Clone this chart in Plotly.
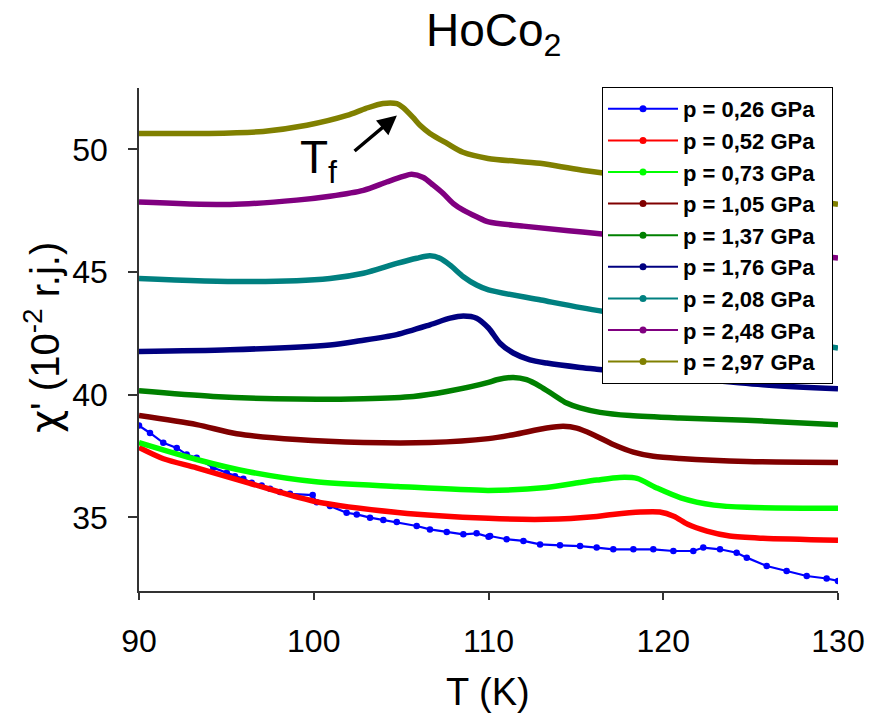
import plotly.graph_objects as go

# AC susceptibility of HoCo2 vs temperature at several pressures
labels = ["p = 0,26 GPa", "p = 0,52 GPa", "p = 0,73 GPa", "p = 1,05 GPa", "p = 1,37 GPa",
          "p = 1,76 GPa", "p = 2,08 GPa", "p = 2,48 GPa", "p = 2,97 GPa"]
colors = ["#0000FF", "#FF0000", "#00FF00", "#800000", "#008000",
          "#000080", "#008080", "#800080", "#808000"]

t_026 = [90.0, 90.63, 91.39, 92.16, 92.73, 93.3, 94.25, 95.02, 95.49, 95.97, 96.45, 97.02,
         97.5, 98.07, 98.64, 99.94, 100.17, 100.93, 101.88, 102.46, 103.22, 103.98, 104.75,
         105.89, 106.65, 107.61, 108.56, 109.32, 110.0, 110.09, 111.04, 112.0, 112.95, 114.09,
         115.24, 116.19, 117.14, 118.29, 119.43, 120.58, 121.72, 122.29, 123.25, 124.2, 124.78,
         125.92, 127.06, 128.21, 129.35, 130.0]
chi_026 = [38.74, 38.44, 38.04, 37.83, 37.56, 37.43, 37.02, 36.82, 36.68, 36.57, 36.41, 36.30,
           36.17, 36.03, 35.96, 35.91, 35.62, 35.46, 35.19, 35.12, 34.99, 34.89, 34.81,
           34.65, 34.51, 34.40, 34.31, 34.35, 34.21, 34.24, 34.11, 34.04, 33.90, 33.86,
           33.83, 33.77, 33.70, 33.70, 33.70, 33.63, 33.63, 33.77, 33.70, 33.56, 33.36,
           33.02, 32.82, 32.61, 32.51, 32.41]

t_052 = [90.0, 91.4, 93.3, 96.2, 100.0, 104.8, 110.0, 113.3, 116.2, 117.1, 118.7, 119.8,
         120.6, 121.4, 122.5, 123.8, 125.7, 130.0]
chi_052 = [37.85, 37.39, 37.02, 36.42, 35.66, 35.20, 34.96, 34.92, 35.04, 35.12, 35.22, 35.22,
           35.05, 34.72, 34.44, 34.24, 34.15, 34.07]

t_073 = [90.0, 93.3, 96.2, 100.0, 104.8, 110.0, 113.3, 115.2, 116.2, 117.5, 118.5, 119.6,
         121.0, 122.9, 124.8, 130.0]
chi_073 = [38.05, 37.36, 36.87, 36.46, 36.26, 36.10, 36.22, 36.42, 36.52, 36.63, 36.59, 36.21,
           35.80, 35.50, 35.41, 35.37]

t_105 = [90.0, 93.3, 95.59, 99.02, 102.84, 106.65, 110.0, 111.42, 113.33, 114.28, 115.05,
         116.0, 117.14, 118.29, 119.43, 120.96, 124.78, 130.0]
chi_105 = [39.15, 38.78, 38.41, 38.17, 38.05, 38.05, 38.21, 38.37, 38.64, 38.71, 38.64,
           38.37, 37.97, 37.66, 37.49, 37.40, 37.28, 37.24]

t_137 = [90.0, 94.25, 99.02, 102.84, 105.7, 107.61, 110.0, 110.47, 111.42, 112.18, 112.95,
         113.71, 114.47, 115.24, 116.38, 118.1, 120.96, 124.78, 130.0]
chi_137 = [40.16, 39.93, 39.82, 39.84, 39.93, 40.13, 40.50, 40.61, 40.70, 40.61, 40.34,
           40.00, 39.66, 39.46, 39.28, 39.15, 39.05, 38.96, 38.78]

t_176 = [90.0, 95.2, 100.93, 102.65, 104.75, 106.65, 107.8, 108.56, 109.32, 110.0, 110.66,
         111.42, 112.37, 113.33, 115.24, 116.19, 125.7, 130.0]
chi_176 = [41.76, 41.83, 42.03, 42.20, 42.45, 42.85, 43.12, 43.21, 43.12, 42.72, 42.10,
           41.70, 41.42, 41.29, 41.11, 41.04, 40.41, 40.24]

t_208 = [90.0, 96.16, 100.93, 102.84, 104.75, 105.89, 106.65, 107.22, 107.8, 108.56, 109.32,
         110.0, 113.0, 115.38, 130.0]
chi_208 = [44.74, 44.61, 44.74, 44.95, 45.35, 45.56, 45.66, 45.56, 45.28, 44.81, 44.47,
           44.27, 43.86, 43.54, 41.90]

t_248 = [90.0, 95.2, 99.02, 100.93, 102.84, 104.17, 105.12, 105.6, 106.27, 106.84, 107.41,
         107.99, 108.56, 109.32, 110.0, 112.0, 115.38, 130.0]
chi_248 = [47.85, 47.75, 47.93, 48.09, 48.33, 48.67, 48.90, 48.98, 48.85, 48.54, 48.20,
           47.79, 47.52, 47.25, 47.04, 46.87, 46.63, 45.57]

t_297 = [90.0, 94.0, 97.1, 99.6, 101.9, 102.99, 103.96, 104.76, 105.1, 105.68, 106.08,
         106.65, 107.63, 108.54, 109.97, 112.95, 115.38, 130.0]
chi_297 = [50.65, 50.65, 50.73, 50.98, 51.38, 51.67, 51.87, 51.86, 51.71, 51.30, 50.98,
           50.65, 50.24, 49.88, 49.63, 49.43, 49.15, 47.76]

series_t = [t_026, t_052, t_073, t_105, t_137, t_176, t_208, t_248, t_297]
series_chi = [chi_026, chi_052, chi_073, chi_105, chi_137, chi_176, chi_208, chi_248, chi_297]

x_ticks = [90, 100, 110, 120, 130]
y_ticks = [35, 40, 45, 50]

FONT = "Liberation Sans, Arial, sans-serif"
PAD = "\u00a0\u00a0"  # keeps the legend box as wide as the plot's right part

fig = go.Figure()

for i, (t, chi) in enumerate(zip(series_t, series_chi)):
    if i == 0:
        fig.add_trace(go.Scatter(
            x=t, y=chi, mode="lines+markers", showlegend=False,
            line=dict(color=colors[i], width=2.2),
            marker=dict(color=colors[i], size=6.5),
        ))
    else:
        fig.add_trace(go.Scatter(
            x=t, y=chi, mode="lines", showlegend=False,
            line=dict(color=colors[i], width=5.5, shape="spline", smoothing=0.8),
        ))

# legend entries: thin line with a dot
for i, name in enumerate(labels):
    fig.add_trace(go.Scatter(
        x=[None], y=[None], mode="lines+markers", name=name + PAD,
        line=dict(color=colors[i], width=2),
        marker=dict(color=colors[i], size=7),
    ))

L, R, T, B = 139, 33, 88, 126
W = 871 - L - R
H = 717 - T - B


def px_x(p):
    """paper x of a horizontal pixel position"""
    return (p - L) / W


def px_y(p):
    """paper y of a vertical pixel position"""
    return (717 - B - p) / H


fig.update_layout(
    width=871, height=717,
    margin=dict(l=L, r=R, t=T, b=B, autoexpand=False),
    paper_bgcolor="white", plot_bgcolor="white",
    font=dict(family=FONT, color="black"),
    showlegend=True,
    legend=dict(
        x=px_x(602), y=px_y(87), xanchor="left", yanchor="top",
        bgcolor="white", bordercolor="black", borderwidth=1,
        font=dict(family=FONT, size=22, color="black", weight="bold"),
        itemwidth=70, tracegroupgap=0,
    ),
    xaxis=dict(
        range=[90, 130], tickvals=x_ticks, ticks="outside", ticklen=7, tickwidth=1.5,
        tickcolor="#333", showline=True, linecolor="#333", linewidth=1.5,
        showgrid=False, zeroline=False, tickfont=dict(size=32), ticklabelstandoff=14,
        automargin=False, ticklabeloverflow="allow",
    ),
    yaxis=dict(
        range=[32.0, 52.5], tickvals=y_ticks, ticks="outside", ticklen=9, tickwidth=1.5,
        tickcolor="#333", showline=True, linecolor="#333", linewidth=1.5,
        showgrid=False, zeroline=False, tickfont=dict(size=32), ticklabelstandoff=14,
        automargin=False,
    ),
    annotations=[
        dict(text="HoCo<sub>2</sub>", xref="paper", yref="paper", x=px_x(494),
             y=px_y(34), xanchor="center", yanchor="middle", showarrow=False,
             font=dict(size=46)),
        dict(text="T (K)", xref="paper", yref="paper", x=px_x(488),
             y=px_y(692), xanchor="center", yanchor="middle", showarrow=False,
             font=dict(size=38)),
        dict(text="<span style=\"font-family:'DejaVu Sans'\">χ</span>' (10<sup>-2</sup> r.j.)",
             xref="paper", yref="paper",
             x=px_x(42), y=px_y(338), xanchor="center", yanchor="middle",
             textangle=-90, showarrow=False, font=dict(size=40)),
        dict(text="T<sub>f</sub>", xref="x", yref="y", x=99.1, y=49.55,
             xanchor="left", yanchor="middle", showarrow=False, font=dict(size=46)),
        dict(text="", xref="x", yref="y", x=104.76, y=51.38, axref="x", ayref="y",
             ax=102.25, ay=49.88, showarrow=True, arrowhead=2, arrowsize=1.1,
             arrowwidth=3.5, arrowcolor="black"),
    ],
)

fig.write_html("out.html")
